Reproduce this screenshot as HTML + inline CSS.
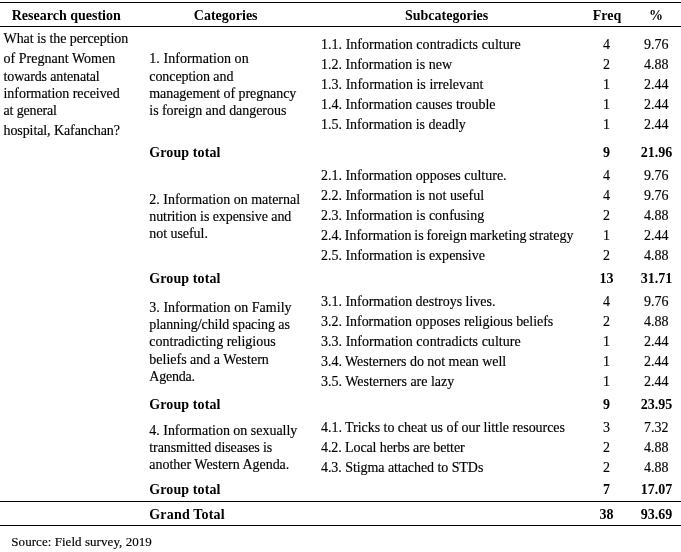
<!DOCTYPE html>
<html lang="en"><head><meta charset="utf-8"><title>Table</title>
<style>
html,body{margin:0;padding:0;background:#fff}
body{width:681px;height:552px;position:relative;overflow:hidden;font-family:"Liberation Serif","Times New Roman",serif;font-size:14px;color:#000}
.t{position:absolute;white-space:nowrap;line-height:16px;height:16px;-webkit-text-stroke:0.15px #000}
.c{transform:translateX(-50%)}
.b{font-weight:bold;-webkit-text-stroke:0}
.r{position:absolute;background:#000}
</style></head><body>
<div class="r" style="left:0px;top:2px;width:681px;height:1px"></div>
<div class="r" style="left:0px;top:26px;width:681px;height:1px"></div>
<div class="r" style="left:0px;top:501px;width:681px;height:1px"></div>
<div class="r" style="left:0px;top:525px;width:681px;height:1px"></div>
<div class="t c b" style="left:66.25px;top:8.28px">Research question</div>
<div class="t c b" style="left:225.7px;top:8.28px">Categories</div>
<div class="t c b" style="left:446.6px;top:8.28px">Subcategories</div>
<div class="t c b" style="left:607px;top:8.28px">Freq</div>
<div class="t c b" style="left:656px;top:8.28px">%</div>
<div class="t" style="left:3.5px;top:31.28px;letter-spacing:-0.081px">What is the perception</div>
<div class="t" style="left:3.5px;top:51.28px;letter-spacing:0.019px">of Pregnant Women</div>
<div class="t" style="left:3.5px;top:69.28px;letter-spacing:-0.131px">towards antenatal</div>
<div class="t" style="left:3.5px;top:86.28px;letter-spacing:-0.037px">information received</div>
<div class="t" style="left:3.5px;top:103.28px;letter-spacing:-0.144px">at general</div>
<div class="t" style="left:3.5px;top:123.28px;letter-spacing:-0.089px">hospital, Kafanchan?</div>
<div class="t" style="left:149.3px;top:51.28px;letter-spacing:0.062px">1. Information on</div>
<div class="t" style="left:149.3px;top:69.28px;letter-spacing:-0.077px">conception and</div>
<div class="t" style="left:149.3px;top:86.28px;letter-spacing:-0.068px">management of pregnancy</div>
<div class="t" style="left:149.3px;top:103.28px;letter-spacing:-0.043px">is foreign and dangerous</div>
<div class="t" style="left:149.3px;top:192.28px">2. Information on maternal</div>
<div class="t" style="left:149.3px;top:209.28px;letter-spacing:-0.09px">nutrition is expensive and</div>
<div class="t" style="left:149.3px;top:226.28px;letter-spacing:-0.05px">not useful.</div>
<div class="t" style="left:149.3px;top:300.28px;letter-spacing:0.033px">3. Information on Family</div>
<div class="t" style="left:149.3px;top:317.28px;letter-spacing:-0.073px">planning/child spacing as</div>
<div class="t" style="left:149.3px;top:334.28px">contradicting religious</div>
<div class="t" style="left:149.3px;top:352.28px">beliefs and a Western</div>
<div class="t" style="left:149.3px;top:369.28px;letter-spacing:-0.208px">Agenda.</div>
<div class="t" style="left:149.3px;top:423.28px;letter-spacing:-0.02px">4. Information on sexually</div>
<div class="t" style="left:149.3px;top:440.28px;letter-spacing:-0.102px">transmitted diseases is</div>
<div class="t" style="left:149.3px;top:457.28px;letter-spacing:-0.023px">another Western Agenda.</div>
<div class="t b" style="left:149.3px;top:145.28px;letter-spacing:0.1px">Group total</div>
<div class="t b" style="left:149.3px;top:271.28px;letter-spacing:0.1px">Group total</div>
<div class="t b" style="left:149.3px;top:397.28px;letter-spacing:0.1px">Group total</div>
<div class="t b" style="left:149.3px;top:482.28px;letter-spacing:0.1px">Group total</div>
<div class="t b" style="left:149.3px;top:507.28px;letter-spacing:0.175px">Grand Total</div>
<div class="t" style="left:321px;top:37.28px;letter-spacing:0.029px">1.1. Information contradicts culture</div>
<div class="t c" style="left:606.5px;top:37.28px">4</div>
<div class="t c" style="left:656.25px;top:37.28px">9.76</div>
<div class="t" style="left:321px;top:57.28px">1.2. Information is new</div>
<div class="t c" style="left:606.5px;top:57.28px">2</div>
<div class="t c" style="left:656.25px;top:57.28px">4.88</div>
<div class="t" style="left:321px;top:77.28px;letter-spacing:0.034px">1.3. Information is irrelevant</div>
<div class="t c" style="left:606.5px;top:77.28px">1</div>
<div class="t c" style="left:656.25px;top:77.28px">2.44</div>
<div class="t" style="left:321px;top:97.28px">1.4. Information causes trouble</div>
<div class="t c" style="left:606.5px;top:97.28px">1</div>
<div class="t c" style="left:656.25px;top:97.28px">2.44</div>
<div class="t" style="left:321px;top:117.28px;letter-spacing:-0.01px">1.5. Information is deadly</div>
<div class="t c" style="left:606.5px;top:117.28px">1</div>
<div class="t c" style="left:656.25px;top:117.28px">2.44</div>
<div class="t" style="left:321px;top:168.28px;letter-spacing:-0.008px">2.1. Information opposes culture.</div>
<div class="t c" style="left:606.5px;top:168.28px">4</div>
<div class="t c" style="left:656.25px;top:168.28px">9.76</div>
<div class="t" style="left:321px;top:188.28px;letter-spacing:-0.009px">2.2. Information is not useful</div>
<div class="t c" style="left:606.5px;top:188.28px">4</div>
<div class="t c" style="left:656.25px;top:188.28px">9.76</div>
<div class="t" style="left:321px;top:208.28px;letter-spacing:0.009px">2.3. Information is confusing</div>
<div class="t c" style="left:606.5px;top:208.28px">2</div>
<div class="t c" style="left:656.25px;top:208.28px">4.88</div>
<div class="t" style="left:321px;top:228.28px;word-spacing:-0.75px">2.4. Information is foreign marketing strategy</div>
<div class="t c" style="left:606.5px;top:228.28px">1</div>
<div class="t c" style="left:656.25px;top:228.28px">2.44</div>
<div class="t" style="left:321px;top:248.28px;letter-spacing:0.009px">2.5. Information is expensive</div>
<div class="t c" style="left:606.5px;top:248.28px">2</div>
<div class="t c" style="left:656.25px;top:248.28px">4.88</div>
<div class="t" style="left:321px;top:294.28px;letter-spacing:-0.016px">3.1. Information destroys lives.</div>
<div class="t c" style="left:606.5px;top:294.28px">4</div>
<div class="t c" style="left:656.25px;top:294.28px">9.76</div>
<div class="t" style="left:321px;top:314.28px;letter-spacing:-0.024px">3.2. Information opposes religious beliefs</div>
<div class="t c" style="left:606.5px;top:314.28px">2</div>
<div class="t c" style="left:656.25px;top:314.28px">4.88</div>
<div class="t" style="left:321px;top:334.28px;letter-spacing:0.029px">3.3. Information contradicts culture</div>
<div class="t c" style="left:606.5px;top:334.28px">1</div>
<div class="t c" style="left:656.25px;top:334.28px">2.44</div>
<div class="t" style="left:321px;top:354.28px;letter-spacing:-0.04px">3.4. Westerners do not mean well</div>
<div class="t c" style="left:606.5px;top:354.28px">1</div>
<div class="t c" style="left:656.25px;top:354.28px">2.44</div>
<div class="t" style="left:321px;top:374.28px;letter-spacing:-0.011px">3.5. Westerners are lazy</div>
<div class="t c" style="left:606.5px;top:374.28px">1</div>
<div class="t c" style="left:656.25px;top:374.28px">2.44</div>
<div class="t" style="left:321px;top:420.28px;letter-spacing:-0.038px">4.1. Tricks to cheat us of our little resources</div>
<div class="t c" style="left:606.5px;top:420.28px">3</div>
<div class="t c" style="left:656.25px;top:420.28px">7.32</div>
<div class="t" style="left:321px;top:440.28px;letter-spacing:-0.096px">4.2. Local herbs are better</div>
<div class="t c" style="left:606.5px;top:440.28px">2</div>
<div class="t c" style="left:656.25px;top:440.28px">4.88</div>
<div class="t" style="left:321px;top:460.28px;letter-spacing:-0.065px">4.3. Stigma attached to STDs</div>
<div class="t c" style="left:606.5px;top:460.28px">2</div>
<div class="t c" style="left:656.25px;top:460.28px">4.88</div>
<div class="t c b" style="left:606.5px;top:145.28px">9</div>
<div class="t c b" style="left:656.5px;top:145.28px">21.96</div>
<div class="t c b" style="left:606.5px;top:271.28px">13</div>
<div class="t c b" style="left:656.5px;top:271.28px">31.71</div>
<div class="t c b" style="left:606.5px;top:397.28px">9</div>
<div class="t c b" style="left:656.5px;top:397.28px">23.95</div>
<div class="t c b" style="left:606.5px;top:482.28px">7</div>
<div class="t c b" style="left:656.5px;top:482.28px">17.07</div>
<div class="t c b" style="left:606.5px;top:507.28px">38</div>
<div class="t c b" style="left:656.5px;top:507.28px">93.69</div>
<div class="t" style="left:11.3px;top:534.28px;letter-spacing:0.052px;font-size:13px">Source: Field survey, 2019</div>
</body></html>
